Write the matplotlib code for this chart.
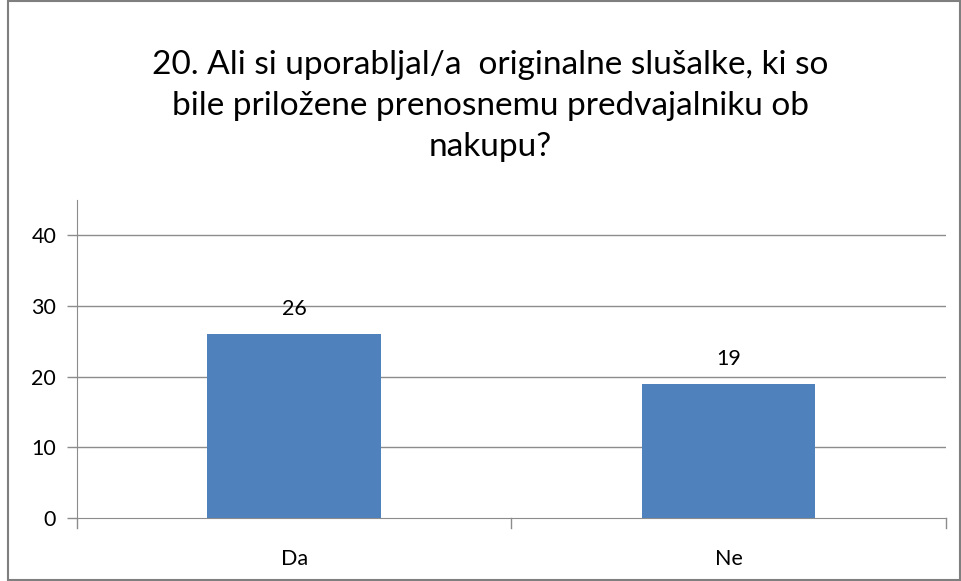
import matplotlib.pyplot as plt
from matplotlib.patches import Rectangle

# ---------- Data ----------
categories = ["Da", "Ne"]
values = [26, 19]
y_ticks = [0, 10, 20, 30, 40]
title = ("20. Ali si uporabljal/a  originalne slušalke, ki so\n"
         "bile priložene prenosnemu predvajalniku ob\n"
         "nakupu?")

BAR_COLOR = "#4F81BD"
GRID_COLOR = "#8C8C8C"

plt.rcParams["font.family"] = ["Lato", "DejaVu Sans"]

fig = plt.figure(figsize=(9.62, 5.81), dpi=100)
ax = fig.add_axes([0.080, 0.108, 0.903, 0.548])

x = list(range(len(categories)))
ax.bar(x, values, width=0.4, color=BAR_COLOR, zorder=3)

for xi, v in zip(x, values):
    ax.text(xi, v + 2.1, str(v), ha="center", va="bottom", fontsize=15.5)

ax.set_xlim(-0.5, len(categories) - 0.5)
ax.set_ylim(0, 45)
ax.set_yticks(y_ticks)
ax.set_xticks(x)
ax.set_xticklabels(categories)
ax.tick_params(axis="y", length=7, width=1, color=GRID_COLOR, labelsize=15.5, pad=8)
ax.tick_params(axis="x", length=0, labelsize=15.5, pad=22)

# category boundary ticks on x axis
for b in [-0.5, 0.5, 1.5]:
    ax.plot([b, b], [0, -1.4], color=GRID_COLOR, lw=1, clip_on=False)

for t in y_ticks[1:]:
    ax.axhline(t, color=GRID_COLOR, lw=1, zorder=1)

for side in ["top", "right"]:
    ax.spines[side].set_visible(False)
ax.spines["left"].set_color(GRID_COLOR)
ax.spines["bottom"].set_color(GRID_COLOR)

fig.text(0.51, 0.818, title, ha="center", va="center", fontsize=24,
         linespacing=1.45)

# chart border
fig.patches.append(Rectangle((0.008, 0.002), 0.990, 0.996, transform=fig.transFigure,
                             fill=False, edgecolor="#7F7F7F", lw=1.5))

fig.savefig("out.png", dpi=100)
